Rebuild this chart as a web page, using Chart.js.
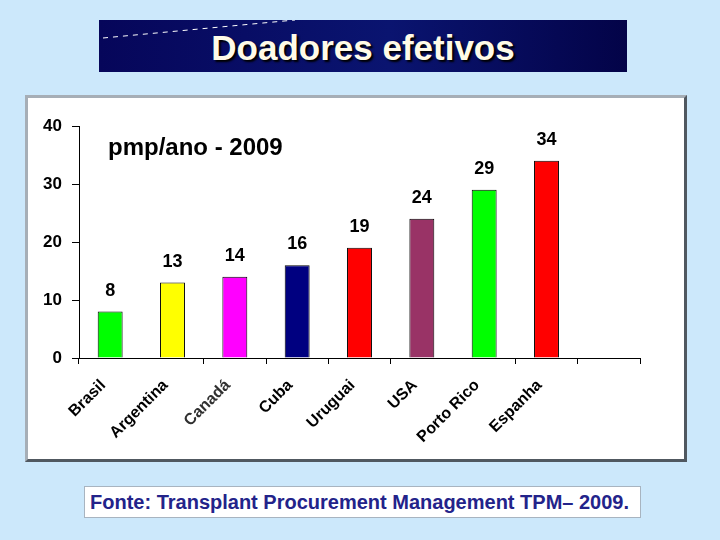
<!DOCTYPE html>
<html>
<head>
<meta charset="utf-8">
<script src="https://cdn.jsdelivr.net/npm/chart.js@4.4.1/dist/chart.umd.min.js"></script>
<style>
  html, body { margin: 0; padding: 0; }
  body { width: 720px; height: 540px; background: #cce8fb; position: relative; overflow: hidden; font-family: "Liberation Sans", Arial, sans-serif; }
  .title-box {
    position: absolute; left: 99px; top: 20px; width: 528px; height: 52px;
    background: linear-gradient(90deg, #06065a 0%, #0a1470 55%, #030348 100%);
  }
  .title-box h1 {
    margin: 0; position: absolute; left: 0; right: 0; top: 8px; text-align: center;
    color: #fffbe8; font-size: 35px; font-weight: bold; letter-spacing: 0;
    text-shadow: 2px 2px 2px #000;
  }
  .title-box svg { position: absolute; left: 0; top: 0; }
  .chart-box {
    position: absolute; left: 25px; top: 95px; width: 656px; height: 361px;
    background: #fff; border: 3px solid #a6aeb6; border-right-color: #505860; border-bottom-color: #505860;
  }
  .sub {
    position: absolute; left: 80px; top: 35px; font-size: 24px; font-weight: bold; color: #000;
  }
  .source {
    position: absolute; left: 84px; top: 486px; width: 555px; height: 30px;
    background: #fff; border: 1px solid #a8b4c0;
    color: #23238a; font-size: 20px; font-weight: bold; line-height: 30px; text-indent: 5px;
  }
</style>
</head>
<body>
<div class="title-box">
  <svg width="528" height="52"><line x1="4" y1="18" x2="196" y2="0" stroke="#ffffff" stroke-width="1" stroke-dasharray="5,5"/></svg>
  <h1>Doadores efetivos</h1>
</div>
<div class="chart-box">
  <canvas id="chart" width="656" height="361"></canvas>
  <div class="sub">pmp/ano - 2009</div>
</div>
<div class="source">Fonte: Transplant Procurement Management TPM– 2009.</div>
<script>
const countries = ['Brasil', 'Argentina', 'Canadá', 'Cuba', 'Uruguai', 'USA', 'Porto Rico', 'Espanha', ''];
const donors = [8, 13, 14, 16, 19, 24, 29, 34, null];
const barColors = ['#00ff00', '#ffff00', '#ff00ff', '#000080', '#ff0000', '#993366', '#00ff00', '#ff0000', '#ffffff'];
const yTicks = [0, 10, 20, 30, 40];

const valueLabels = {
  id: 'valueLabels',
  afterDatasetsDraw(chart) {
    const ctx = chart.ctx;
    const meta = chart.getDatasetMeta(0);
    ctx.save();
    ctx.font = 'bold 18px "Liberation Sans", Arial, sans-serif';
    ctx.fillStyle = '#000';
    ctx.textAlign = 'center';
    ctx.textBaseline = 'middle';
    meta.data.forEach((bar, i) => {
      if (donors[i] == null) return;
      ctx.fillText(String(donors[i]), bar.x, bar.y - 21);
    });
    ctx.restore();
  }
};

new Chart(document.getElementById('chart').getContext('2d'), {
  type: 'bar',
  data: {
    labels: countries,
    datasets: [{
      data: donors,
      backgroundColor: barColors,
      borderColor: '#000',
      borderWidth: 1,
      barPercentage: 0.4,
      categoryPercentage: 1
    }]
  },
  options: {
    responsive: false,
    animation: false,
    layout: { padding: { top: 28, right: 44, left: 0, bottom: 0 } },
    plugins: { legend: { display: false }, tooltip: { enabled: false } },
    scales: {
      y: {
        min: 0, max: 40,
        afterBuildTicks(scale) { scale.ticks = yTicks.map(v => ({ value: v })); },
        afterFit(scale) { scale.width = 51; },
        ticks: { color: '#000', font: { size: 17, weight: 'bold', family: '"Liberation Sans", Arial, sans-serif' }, padding: 10 },
        grid: { drawOnChartArea: false, tickLength: 7, color: '#000' },
        border: { color: '#000', width: 1 }
      },
      x: {
        afterFit(scale) { scale.height = 101; },
        ticks: {
          autoSkip: false, maxRotation: 45, minRotation: 45, padding: 12, labelOffset: -7,
          color: (c) => c.index === 2 ? '#303030' : '#000',
          font: { size: 16, weight: 'bold', family: '"Liberation Sans", Arial, sans-serif' }
        },
        // the original has no tick marks between Brasil/Argentina and USA/Porto Rico
        grid: {
          drawOnChartArea: false, tickLength: 6,
          color: (c) => (c.index === 1 || c.index === 6) ? 'rgba(0,0,0,0)' : '#000'
        },
        border: { color: '#000', width: 1 }
      }
    }
  },
  plugins: [valueLabels]
});
</script>
</body>
</html>
